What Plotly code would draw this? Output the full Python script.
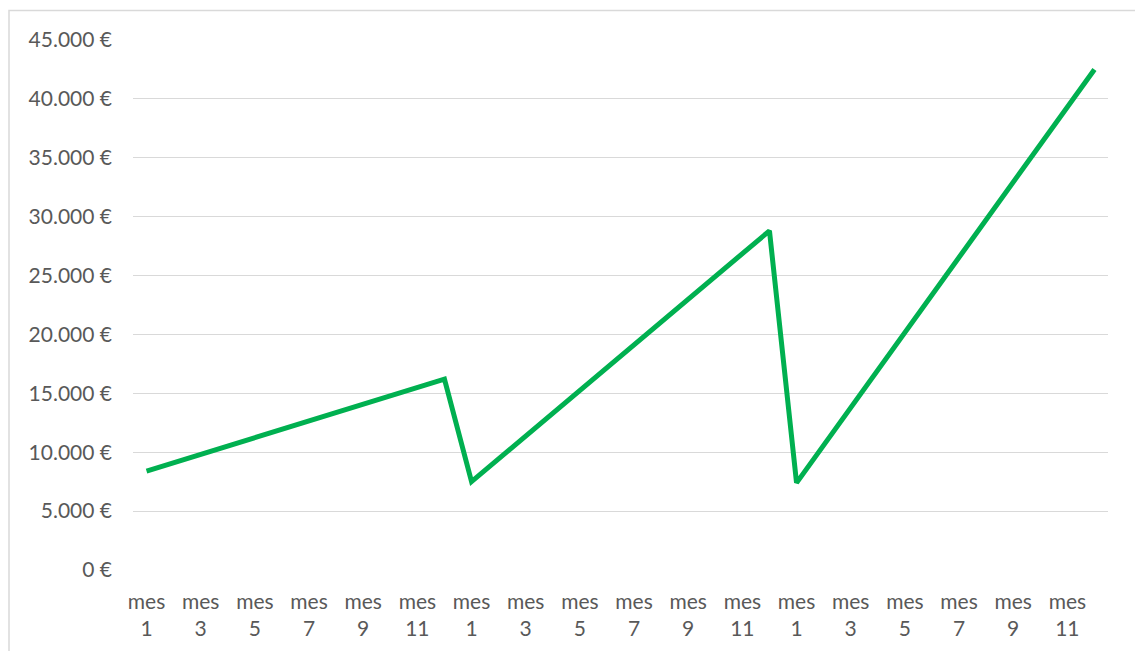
import plotly.graph_objects as go

# Monthly balance over three years (euros)
year1 = [8400, 9110, 9820, 10530, 11240, 11950, 12650, 13360, 14070, 14780, 15490, 16200]
year2 = [7500, 9440, 11370, 13310, 15250, 17180, 19120, 21050, 22990, 24930, 26860, 28800]
year3 = [7400, 10590, 13780, 16970, 20170, 23360, 26550, 29740, 32930, 36120, 39310, 42500]
values = year1 + year2 + year3

month_labels = [f"mes<br>{m}" for m in range(1, 13)] * 3
x_idx = list(range(len(values)))

y_ticks = [0, 5000, 10000, 15000, 20000, 25000, 30000, 35000, 40000, 45000]
y_ticktext = ["0 €", "5.000 €", "10.000 €", "15.000 €", "20.000 €", "25.000 €",
              "30.000 €", "35.000 €", "40.000 €", "45.000 €"]

fig = go.Figure()
fig.add_trace(go.Scatter(
    x=x_idx, y=values, mode="lines",
    line=dict(color="#00B050", width=5, shape="linear"),
    hoverinfo="skip",
))

text_color = "#595959"
font_size = 21
fig.update_layout(
    width=1135, height=651,
    margin=dict(l=133, r=27, t=40, b=81),
    paper_bgcolor="white", plot_bgcolor="white",
    showlegend=False,
    font=dict(family="Lato, Open Sans, sans-serif", size=font_size, color=text_color),
    xaxis=dict(
        range=[-0.5, len(values) - 0.5],
        tickvals=x_idx[::2], ticktext=month_labels[::2],
        showgrid=False, zeroline=False, showline=False, ticks="",
        ticklabelstandoff=17,
        tickfont=dict(size=font_size, color=text_color),
        fixedrange=True,
    ),
    yaxis=dict(
        range=[0, 45000],
        tickvals=y_ticks, ticktext=y_ticktext,
        showgrid=True, gridcolor="#D9D9D9", gridwidth=1,
        zeroline=False, showline=False, ticks="",
        ticklabelstandoff=20,
        tickfont=dict(size=font_size, color=text_color),
        fixedrange=True,
    ),
    shapes=[dict(
        type="rect", xref="paper", yref="paper",
        x0=(9 - 133) / 975, x1=1.2, y0=-0.3, y1=(570 - 10.5) / 530,
        line=dict(color="#D9D9D9", width=1.5), fillcolor="rgba(0,0,0,0)",
        layer="below",
    )],
)

fig.write_html("out.html")
